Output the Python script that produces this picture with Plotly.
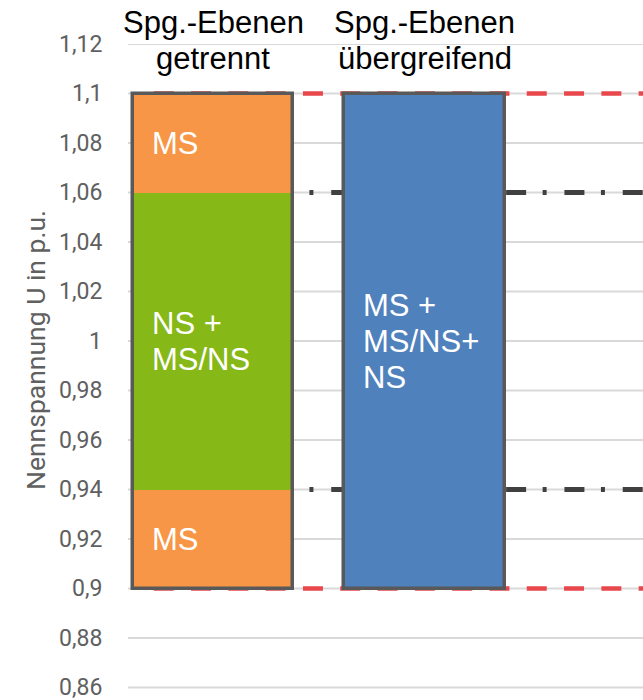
import plotly.graph_objects as go

# Categories (column headers, two lines each)
header_top = ["Spg.-Ebenen", "Spg.-Ebenen"]
header_bottom = ["getrennt", "übergreifend"]
x_pos = [0, 1]

# Column 1: separated voltage levels, stacked bands (lower bound, upper bound, label lines)
sep_lower = [0.90, 0.94, 1.06]
sep_upper = [0.94, 1.06, 1.10]
sep_labels = [["MS"], ["NS +", "MS/NS"], ["MS"]]
sep_colors = ["#F79646", "#86B817", "#F79646"]

# Column 2: combined voltage band
comb_lower = [0.90]
comb_upper = [1.10]
comb_labels = [["MS +", "MS/NS+", "NS"]]
comb_colors = ["#4F81BD"]

# Reference limits
outer_limits = [0.90, 1.10]
inner_limits = [0.94, 1.06]

# Axis
y_ticks = [0.86, 0.88, 0.90, 0.92, 0.94, 0.96, 0.98, 1.00,
           1.02, 1.04, 1.06, 1.08, 1.10, 1.12]
y_ticktext = ["0,86", "0,88", "0,9", "0,92", "0,94", "0,96", "0,98", "1",
              "1,02", "1,04", "1,06", "1,08", "1,1", "1,12"]
y_title = "Nennspannung U in p.u."

BAR_W = 0.76
OUTLINE = "#595959"
TXT_FONT = dict(family="Liberation Sans, Arial", size=31, color="white")
LINE_GAP = 36  # pixel spacing of label lines

fig = go.Figure()

annotations = []


def add_band(xc, lo, hi, color, lines):
    fig.add_trace(go.Bar(
        x=[xc], base=[lo], y=[hi - lo], width=BAR_W,
        marker=dict(color=color, line=dict(width=0)),
        showlegend=False, hoverinfo="skip",
    ))
    mid = (lo + hi) / 2
    n = len(lines)
    for i, txt in enumerate(lines):
        annotations.append(dict(
            x=xc - BAR_W / 2, y=mid, xref="x", yref="y",
            text=txt, showarrow=False, xanchor="left", yanchor="middle",
            xshift=17, yshift=((n - 1) / 2 - i) * LINE_GAP,
            font=TXT_FONT,
        ))


for lo, hi, c, lab in zip(sep_lower, sep_upper, sep_colors, sep_labels):
    add_band(x_pos[0], lo, hi, c, lab)
for lo, hi, c, lab in zip(comb_lower, comb_upper, comb_colors, comb_labels):
    add_band(x_pos[1], lo, hi, c, lab)

# Outline around each complete column
fig.add_trace(go.Bar(
    x=x_pos,
    base=[min(sep_lower), min(comb_lower)],
    y=[max(sep_upper) - min(sep_lower), max(comb_upper) - min(comb_lower)],
    width=BAR_W,
    marker=dict(color="rgba(0,0,0,0)", line=dict(color=OUTLINE, width=3.5)),
    showlegend=False, hoverinfo="skip",
))

# Horizontal grid, then limit lines on top of it (all beneath the bars)
shapes = []
for v in y_ticks:
    shapes.append(dict(type="line", xref="paper", yref="y", x0=0, x1=1, y0=v, y1=v,
                       layer="below", line=dict(color="#D9D9D9", width=2)))
for v in outer_limits:
    shapes.append(dict(type="line", xref="paper", yref="y", x0=0.05, x1=1, y0=v, y1=v,
                       layer="below", line=dict(color="#E8474C", width=4.5, dash="20px,17.3px")))
for v in inner_limits:
    shapes.append(dict(type="line", xref="paper", yref="y", x0=0.055, x1=1, y0=v, y1=v,
                       layer="below",
                       line=dict(color="#404040", width=5, dash="20px,16.5px,4px,17.8px")))

# Y tick labels, right-aligned next to the grid
tick_font = dict(family="Roboto", size=23, color="#606060")
for v, t in zip(y_ticks, y_ticktext):
    annotations.append(dict(x=0, y=v, xref="paper", yref="y", text=t, showarrow=False,
                            xanchor="right", yanchor="middle", xshift=-24, font=tick_font))

# Column headers
head_font = dict(family="Liberation Sans, Arial", size=31, color="black")
for xc, t1, t2 in zip(x_pos, header_top, header_bottom):
    annotations.append(dict(x=xc, y=max(y_ticks), xref="x", yref="y", text=t1,
                            showarrow=False, xanchor="center", yanchor="middle",
                            yshift=22, font=head_font))
    annotations.append(dict(x=xc, y=max(y_ticks), xref="x", yref="y", text=t2,
                            showarrow=False, xanchor="center", yanchor="middle",
                            yshift=-14, font=head_font))

# Axis title
annotations.append(dict(x=-93 / 515, y=(700 - 350) / 656, xref="paper", yref="paper",
                        text=y_title, showarrow=False, textangle=-90,
                        xanchor="center", yanchor="middle",
                        font=dict(family="Roboto", size=26.5, color="#606060")))

fig.update_layout(
    width=643, height=700,
    margin=dict(l=128, r=0, t=44, b=0),
    paper_bgcolor="white", plot_bgcolor="white",
    barmode="overlay", bargap=0,
    shapes=shapes,
    annotations=annotations,
    xaxis=dict(range=[-0.402, 2.033], showticklabels=False, showgrid=False,
               zeroline=False, showline=False, fixedrange=True),
    yaxis=dict(range=[0.855, max(y_ticks)], showticklabels=False,
               showgrid=False, zeroline=False, showline=False, ticks="",
               fixedrange=True),
)

fig.write_html("out.html")
